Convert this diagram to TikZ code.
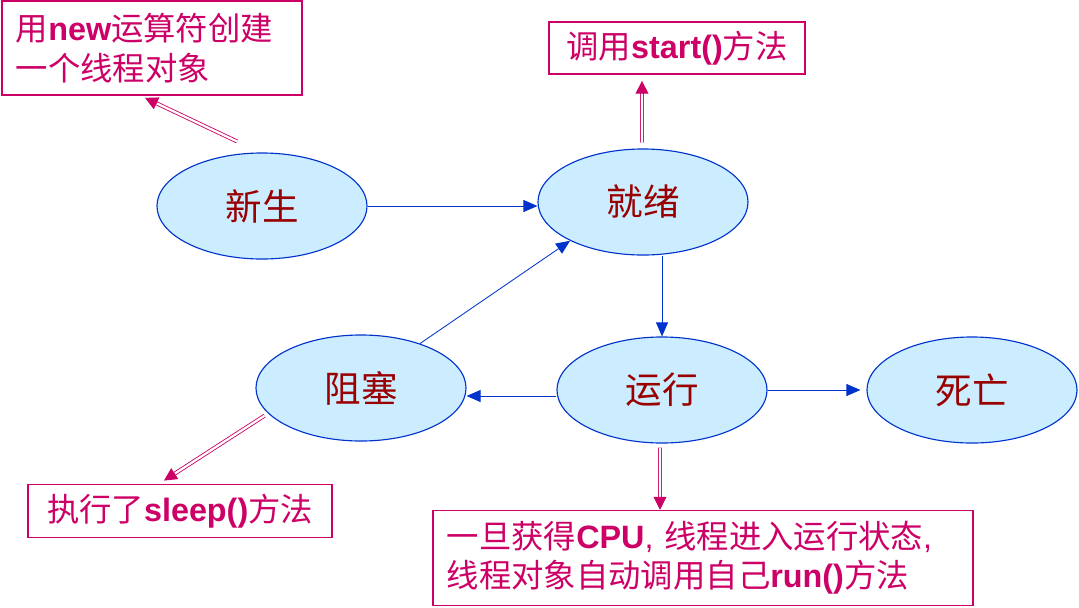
\documentclass[tikz,border=0pt]{standalone}
\usepackage{fontspec}
\setmainfont{Noto Sans CJK SC}
\newfontfamily\arialf{Liberation Sans}
\usepackage{xcolor}
\usepackage{tikz}
\usetikzlibrary{arrows.meta,shapes.geometric,calc}

\definecolor{stateblue}{HTML}{0033CC}
\definecolor{statefill}{HTML}{CCECFF}
\definecolor{statered}{HTML}{990000}
\definecolor{notepink}{HTML}{CC0066}
\newcommand{\bw}[1]{{\arialf\bfseries #1}}

\begin{document}
\begin{tikzpicture}[
  x=0.025cm, y=-0.025cm,
  state/.style={ellipse, draw=stateblue, fill=statefill, line width=0.8pt, minimum width=5.25cm, minimum height=2.65cm, text=statered, font=\fontsize{26}{30}\selectfont},
  note/.style={draw=notepink, line width=1.2pt, text=notepink, inner sep=0pt, font=\fontsize{23}{29}\selectfont},
  longnote/.style={note, align=left, inner xsep=0.35cm},
  line/.style={-{Triangle[length=3.5mm, width=3mm]}, stateblue, line width=0.6pt},
  call/.style={draw=notepink, double=white, double distance=1.6pt, line width=0.6pt, shorten >=2.5mm},
  calltip/.style={-{Triangle[length=3.2mm, width=3.2mm, fill=notepink]}, draw=notepink, line width=0.6pt}
]
\useasboundingbox (0,0) rectangle (1079,607);

% states
\node[state] (new) at (262,206) {新生};
\node[state] (ready) at (643,202) {就绪};
\node[state] (run) at (662,390) {运行};
\node[state] (block) at (361,388) {阻塞};
\node[state] (dead) at (972,390) {死亡};

% notes
\node[longnote, text width=6.8cm, minimum height=2.35cm] (newnote) at (152,48) {用\bw{new}运算符创建\\一个线程对象};
\node[note, minimum width=6.4cm, minimum height=1.3cm] (startnote) at (677,48) {调用\bw{start()}方法};
\node[note, minimum width=7.6cm, minimum height=1.32cm] (sleepnote) at (180,511) {执行了\bw{sleep()}方法};
\node[longnote, text width=12.8cm, minimum height=2.37cm, font=\fontsize{23}{28}\selectfont] (cpunote) at (703,558) {一旦获得\bw{CPU}{\arialf, }线程进入运行状态{\arialf,}\\线程对象自动调用自己\bw{run()}方法};

% transitions
\draw[line] (new.east) -- (new.east -| ready.west);
\draw[line] (ready.south -| run.north) -- (run.north);
\draw[line] ([yshift=-0.15cm]run.west) -- ([yshift=-0.15cm]run.west -| block.east);
\draw[line, shorten >=0.15cm] (run.east) -- (run.east -| dead.west);
\draw[line] (block.37) -- (ready.208);

% method calls
\coordinate (newfrom) at ([xshift=-0.625cm, yshift=0.275cm]new.north);
\coordinate (newto) at ([xshift=-0.175cm, yshift=-0.05cm]newnote.south);
\coordinate (readyfrom) at ([xshift=-0.025cm, yshift=0.15cm]ready.north);
\coordinate (readyto) at ([xshift=-0.875cm, yshift=-0.15cm]startnote.south);
\coordinate (blockfrom) at ([xshift=-0.15cm]block.197);
\coordinate (blockto) at ([xshift=-0.4cm, yshift=0.08cm]sleepnote.north);
\coordinate (runfrom) at ([xshift=-0.05cm, yshift=-0.1cm]run.south);
\coordinate (runto) at ([xshift=-1.075cm]cpunote.north);

\draw[call] (newfrom) -- (newto);
\draw[calltip] ($(newto)!3.25mm!(newfrom)$) -- (newto);
\draw[call] (readyfrom) -- (readyto);
\draw[calltip] ($(readyto)!3.25mm!(readyfrom)$) -- (readyto);
\draw[call] (blockfrom) -- (blockto);
\draw[calltip] ($(blockto)!3.25mm!(blockfrom)$) -- (blockto);
\draw[call] (runfrom) -- (runto);
\draw[calltip] ($(runto)!3.25mm!(runfrom)$) -- (runto);
\end{tikzpicture}
\end{document}
